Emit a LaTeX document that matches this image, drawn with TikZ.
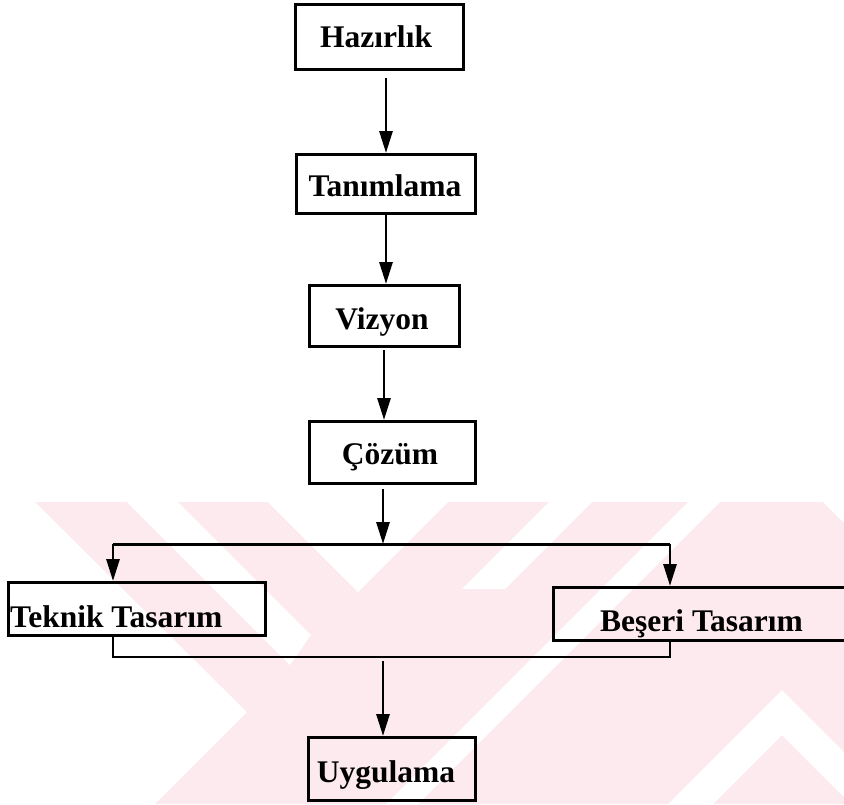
\documentclass[tikz,border=0pt]{standalone}
\usepackage{fontspec}
\setmainfont{Liberation Serif}
\usetikzlibrary{arrows.meta}
\definecolor{wmpink}{RGB}{252,234,238}
\tikzset{
  box/.style={draw=black, line width=2.8pt, inner sep=0pt, anchor=north west},
  lbl/.style={inner sep=0pt, anchor=base, font=\fontsize{31.5}{38}\selectfont\bfseries},
  arr/.style={line width=2.8pt, -{Triangle[length=22pt,width=13pt]}},
  link/.style={line width=3pt},
  thinlink/.style={line width=1.6pt},
}
\begin{document}
\begin{tikzpicture}[x=1pt,y=-1pt]
\useasboundingbox (0,0) rectangle (844,804);

% background mark in pale pink
\fill[wmpink] (35,502) -- (823,502) -- (844,523) -- (844,804) -- (155,804) -- (247,712) -- cycle;
\fill[white] (127,502) -- (178,502) -- (311,635) -- (290,665) -- cycle;
\fill[white] (268,502) -- (448,502) -- (358,592) -- cycle;
\fill[white] (549,502) -- (592,502) -- (505,589) -- (462,589) -- cycle;
\fill[white] (688,502) -- (720,502) -- (418,804) -- (386,804) -- cycle;
\fill[white] (668,804) -- (782,690) -- (844,752) -- (844,797) -- (782,735) -- (713,804) -- cycle;

% boxes
\node[box, minimum width=168pt, minimum height=65pt] (hz) at (294,3) {};
\node[box, minimum width=179pt, minimum height=59pt] (tn) at (295,153) {};
\node[box, minimum width=150pt, minimum height=61pt] (vz) at (308,284) {};
\node[box, minimum width=166pt, minimum height=62pt] (cz) at (308,420) {};
\node[box, minimum width=257pt, minimum height=53pt] (tk) at (7,581) {};
\node[box, minimum width=300pt, minimum height=53pt] (bs) at (552,586) {};
\node[box, minimum width=167pt, minimum height=63pt] (uy) at (307,736) {};

% labels
\node[lbl] (hzt) at (376,47) {Hazırlık};
\node[lbl] (tnt) at (385,196) {Tanımlama};
\node[lbl] (vzt) at (382,329) {Vizyon};
\node[lbl] (czt) at (390,464) {Çözüm};
\node[lbl, anchor=base west] (tkt) at (10,627) {Teknik Tasarım};
\node[lbl, anchor=base west] (bst) at (600,631) {Beşeri Tasarım};
\node[lbl] (uyt) at (386,782) {Uygulama};

% routing points
\coordinate (s1) at (386,0);
\coordinate (s2) at (384,0);
\coordinate (fork) at (383,544);
\coordinate (forkL) at (113,544);
\coordinate (forkR) at (670,544);
\coordinate (joinL) at (113,657);
\coordinate (joinR) at (670,657);
\coordinate (join) at (383,661);

% main chain
\draw[arr, shorten <=7pt] (hz.south -| s1) -- (tn.north -| s1);
\draw[arr] (tn.south -| s1) -- (vz.north -| s1);
\draw[arr, shorten <=2pt] (vz.south -| s2) -- (cz.north -| s2);
\draw[arr, shorten <=4pt] (cz.south -| fork) -- (fork);

% split into the two design branches
\draw[link] (forkL) -- (forkR);
\draw[arr] (forkL) -- (tk.north -| forkL);
\draw[arr] (forkR) -- (bs.north -| forkR);

% merge into implementation
\draw[thinlink] (tk.south -| joinL) -- (joinL) -- (joinR) -- (bs.south -| joinR);
\draw[arr] (join) -- (uy.north -| join);
\end{tikzpicture}
\end{document}
